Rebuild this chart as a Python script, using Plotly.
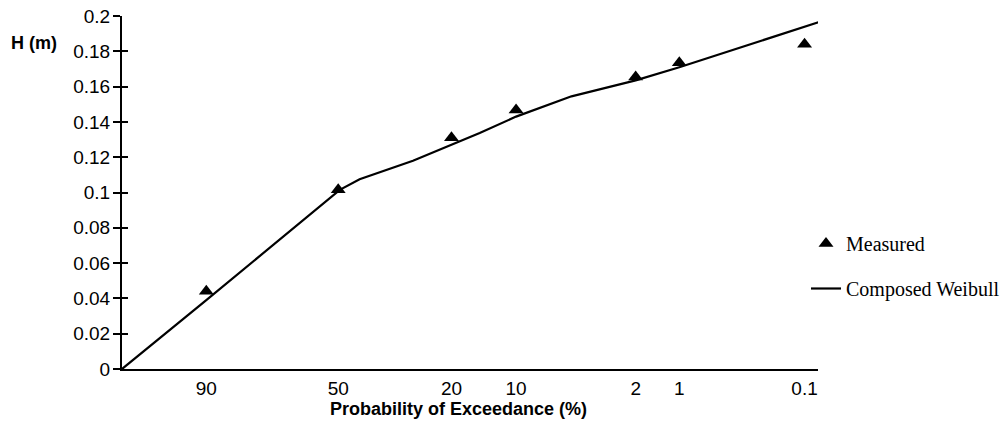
import numpy as np
import plotly.graph_objects as go

# Measured wave heights at probability of exceedance (%)
measured_prob = [90, 50, 20, 10, 2, 1, 0.1]
measured_h = [0.044, 0.1015, 0.131, 0.1467, 0.1655, 0.1735, 0.184]

# Composed Weibull curve
weibull_prob = [100, 90, 49.5, 43.3, 28.5, 20, 15, 10, 5, 2, 1, 0.074]
weibull_h = [0.0, 0.039, 0.1015, 0.1075, 0.118, 0.127, 0.1337, 0.143,
             0.1545, 0.1635, 0.171, 0.1966]

tick_prob = [90, 50, 20, 10, 2, 1, 0.1]
tick_text = ["90", "50", "20", "10", "2", "1", "0.1"]


def rayleigh(p):
    # position on Rayleigh probability paper
    return np.sqrt(-np.log(np.asarray(p, dtype=float) / 100.0))


W, H = 1005, 432
L, R, T, B = 122, 187, 16, 63
pw = W - L - R
ph = H - T - B


def px_to_paper(px, py):
    return (px - L) / pw, ((H - py) - B) / ph


fig = go.Figure()
fig.add_trace(go.Scatter(
    x=rayleigh(weibull_prob), y=weibull_h, mode="lines",
    line=dict(color="black", width=2.2), name="Composed Weibull",
    legendgroup="b", legendrank=2))
fig.add_trace(go.Scatter(
    x=rayleigh(measured_prob), y=measured_h, mode="markers",
    marker=dict(symbol="triangle-up", size=13, color="black"),
    name="Measured", legendgroup="a", legendrank=1))
# dummy trace to activate yaxis2 (inner half of the crossing ticks)
fig.add_trace(go.Scatter(x=[0], y=[0], yaxis="y2", mode="markers",
                         marker=dict(opacity=0), showlegend=False, hoverinfo="skip"))

ax_x, ax_y = px_to_paper(458, 409)
hx, hy = px_to_paper(34, 43)

fig.update_layout(
    width=W, height=H,
    margin=dict(l=L, r=R, t=T, b=B, autoexpand=False),
    paper_bgcolor="white", plot_bgcolor="white",
    font=dict(family="Liberation Sans, Arial, sans-serif", size=19, color="black"),
    showlegend=True,
    legend=dict(
        x=806 / W, y=(H - 224) / H, xref="container", yref="container",
        xanchor="left", yanchor="top",
        traceorder="grouped", tracegroupgap=16,
        font=dict(family="Liberation Serif, Times New Roman, serif", size=20, color="black"),
        bgcolor="rgba(0,0,0,0)", itemwidth=30,
    ),
    xaxis=dict(
        range=[0, 2.68], showgrid=False, zeroline=False,
        showline=True, linecolor="black", linewidth=2,
        tickmode="array", tickvals=rayleigh(tick_prob), ticktext=tick_text,
        ticks="", ticklabelstandoff=1,
        tickfont=dict(size=19),
    ),
    yaxis=dict(
        range=[0, 0.2], dtick=0.02, showgrid=False, zeroline=False,
        showline=True, linecolor="black", linewidth=2,
        ticks="outside", ticklen=7, tickwidth=1.5, tickcolor="black",
        ticklabelstandoff=-1, tickfont=dict(size=19),
    ),
    yaxis2=dict(
        range=[0, 0.2], dtick=0.02, overlaying="y", side="left",
        showgrid=False, zeroline=False, showline=False,
        ticks="inside", ticklen=6, tickwidth=1.5, tickcolor="black",
        showticklabels=False,
    ),
    annotations=[
        dict(text="<b>Probability of Exceedance (%)</b>", x=ax_x, y=ax_y,
             xref="paper", yref="paper", showarrow=False,
             xanchor="center", yanchor="middle", font=dict(size=18)),
        dict(text="<b>H (m)</b>", x=hx, y=hy,
             xref="paper", yref="paper", showarrow=False,
             xanchor="center", yanchor="middle", font=dict(size=18)),
    ],
)

fig.write_html("out.html")
